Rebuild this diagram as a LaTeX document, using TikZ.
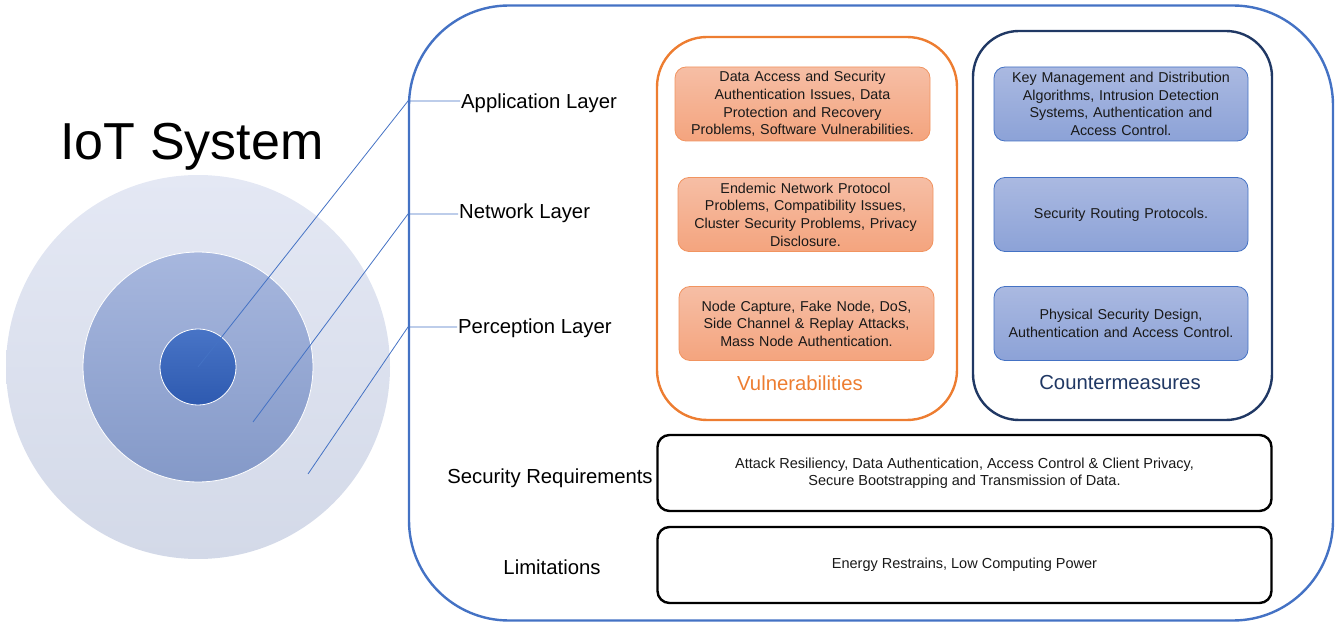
\documentclass[tikz,border=0pt]{standalone}
\usepackage{fontspec}
\setmainfont{Liberation Sans}
\newcommand\myfs[2]{\fontsize{#1}{#2}\selectfont}
\definecolor{sysblue}{HTML}{4472C4}
\definecolor{vorange}{HTML}{ED7D31}
\definecolor{cnavy}{HTML}{203864}
\definecolor{ortop}{RGB}{246,190,165}
\definecolor{orbot}{RGB}{244,164,126}
\definecolor{orbd}{RGB}{241,148,96}
\definecolor{bltop}{RGB}{170,185,225}
\definecolor{blbot}{RGB}{140,162,215}
\definecolor{outtop}{RGB}{228,232,244}
\definecolor{outbot}{RGB}{211,217,232}
\definecolor{midtop}{RGB}{167,183,222}
\definecolor{midbot}{RGB}{132,153,200}
\definecolor{intop}{RGB}{72,116,198}
\definecolor{inbot}{RGB}{46,90,176}
\begin{document}
\begin{tikzpicture}[x=1pt,y=-1pt,
  container/.style={draw, line width=2.4pt, inner sep=0pt, fill=none},
  orbox/.style={draw=orbd, line width=0.8pt, rounded corners=11pt, top color=ortop, bottom color=orbot,
    minimum width=255pt, minimum height=74pt, text width=250pt, align=center, inner sep=0pt,
    font=\myfs{14.3}{17.6}, text=black!90},
  blbox/.style={draw=sysblue, line width=0.8pt, rounded corners=11pt, top color=bltop, bottom color=blbot,
    minimum width=254pt, minimum height=74pt, text width=250pt, align=center, inner sep=0pt,
    font=\myfs{14.3}{17.6}, text=black!90},
  reqbox/.style={draw=black, line width=2.4pt, rounded corners=12pt, minimum width=614pt, minimum height=76pt,
    align=center, inner sep=0pt, font=\myfs{14.5}{17.2}, text=black!90},
  layer/.style={anchor=west, inner sep=1pt, font=\myfs{20.3}{23}},
  side/.style={font=\myfs{20.3}{23}},
  conn/.style={draw=sysblue, line width=0.8pt}
]
\useasboundingbox (0,0) rectangle (1339,628);

% concentric circles
\shade[top color=outtop, bottom color=outbot] (198,367) circle (192);
\shade[top color=midtop, bottom color=midbot] (198,367) circle (115);
\draw[white, line width=0.8pt] (198,367) circle (115);
\shade[top color=intop, bottom color=inbot] (198,367) circle (38);
\draw[white, line width=0.8pt] (198,367) circle (38);

\node[anchor=base, font=\myfs{52}{58}, inner sep=0pt] (title) at (192,160) {IoT System};

% containers
\node[container, draw=sysblue, rounded corners=100pt, minimum width=924pt, minimum height=615pt] (sys) at (871,313) {};
\node[container, draw=vorange, rounded corners=50pt, minimum width=300pt, minimum height=383pt] (vul) at (807,228.5) {};
\node[container, draw=cnavy, rounded corners=46pt, minimum width=299pt, minimum height=389pt] (cnt) at (1122.5,225.5) {};

% vulnerability boxes
\node[orbox] (v1) at (802.5,104) {Data Access and Security\\Authentication Issues, Data\\Protection and Recovery\\Problems, Software Vulnerabilities.};
\node[orbox] (v2) at (805.5,214.5) {Endemic Network Protocol\\Problems, Compatibility Issues,\\Cluster Security Problems, Privacy\\Disclosure.};
\node[orbox] (v3) at (806.5,323.5) {Node Capture, Fake Node, DoS,\\Side Channel \& Replay Attacks,\\Mass Node Authentication.};
\node[side, text=vorange] (vlab) at (800,383) {Vulnerabilities};

% countermeasure boxes
\node[blbox] (c1) at (1121,104) {Key Management and Distribution\\Algorithms, Intrusion Detection\\Systems, Authentication and\\Access Control.};
\node[blbox] (c2) at (1121,214.5) {Security Routing Protocols.};
\node[blbox] (c3) at (1121,323.5) {Physical Security Design,\\Authentication and Access Control.};
\node[side, text=cnavy] (clab) at (1120,383) {Countermeasures};

% requirement / limitation boxes
\node[reqbox] (req) at (964.5,473) {Attack Resiliency, Data Authentication, Access Control \& Client Privacy,\\Secure Bootstrapping and Transmission of Data.};
\node[reqbox] (lim) at (964.5,565) {Energy Restrains, Low Computing Power};
\node[side] (reqlab) at (550,478) {Security Requirements};
\node[side] (limlab) at (552,567) {Limitations};

% layer labels
\node[layer] (app) at (460,103) {Application Layer};
\node[layer] (net) at (458,213) {Network Layer};
\node[layer] (per) at (457,328) {Perception Layer};

% connectors
\coordinate (pa) at (198,367);
\coordinate (pn) at (253,422);
\coordinate (pp) at (308,474);
\coordinate (ka) at (408,101);
\coordinate (kn) at (408,214);
\coordinate (kp) at (408,327);
\draw[conn] (pa) -- (ka) -- (ka -| app.west);
\draw[conn] (pn) -- (kn) -- (kn -| net.west);
\draw[conn] (pp) -- (kp) -- (kp -| per.west);
\end{tikzpicture}
\end{document}
